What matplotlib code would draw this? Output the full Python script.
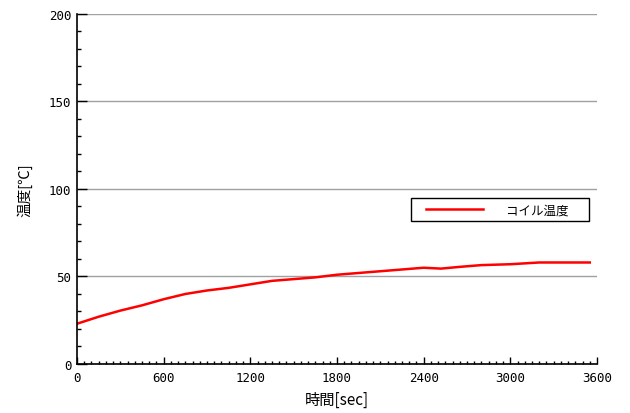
import matplotlib
matplotlib.use('Agg')
from matplotlib import pyplot as plt
from matplotlib.ticker import MultipleLocator
from matplotlib.legend_handler import HandlerLine2D

# コイル温度の推移
time_sec = [0, 150, 300, 450, 600, 750, 900, 1050, 1200, 1350, 1500, 1650,
            1800, 1950, 2100, 2250, 2400, 2520, 2650, 2800, 3000, 3200, 3550]
coil_temp = [23, 27, 30.5, 33.5, 37, 40, 42, 43.5, 45.5, 47.5, 48.5, 49.5,
             51, 52, 53, 54, 55, 54.5, 55.5, 56.5, 57, 58, 58]
x_ticks = [0, 600, 1200, 1800, 2400, 3000, 3600]
y_ticks = [0, 50, 100, 150, 200]

plt.rcParams['font.family'] = ['Noto Sans CJK JP', 'DejaVu Sans']
plt.rcParams['font.size'] = 8.5

fig = plt.figure(figsize=(6.3, 4.14), dpi=100)
ax = fig.add_axes([0.1222, 0.1184, 0.8254, 0.8454])

line, = ax.plot(time_sec, coil_temp, color='#ff0000', linewidth=1.8, label='コイル温度')

ax.set_xlim(0, 3600)
ax.set_ylim(0, 200)
ax.set_xticks(x_ticks)
ax.set_yticks(y_ticks)
ax.xaxis.set_minor_locator(MultipleLocator(50))
ax.yaxis.set_minor_locator(MultipleLocator(10))
ax.tick_params(axis='y', which='major', direction='in', length=7, width=1, pad=4)
ax.tick_params(axis='y', which='minor', direction='in', length=3, width=1)
ax.tick_params(axis='x', which='major', direction='in', length=5, width=1, pad=5)
ax.tick_params(axis='x', which='minor', direction='in', length=2.5, width=1)
for lbl in ax.get_xticklabels() + ax.get_yticklabels():
    lbl.set_family('DejaVu Sans Mono')
    lbl.set_fontsize(9)

ax.grid(axis='y', which='major', color='#a0a0a0', linewidth=1)
ax.set_axisbelow(True)

for side in ['top', 'right']:
    ax.spines[side].set_visible(False)
for side in ['left', 'bottom']:
    ax.spines[side].set_color('black')
    ax.spines[side].set_linewidth(1.2)

ax.set_xlabel('時間[sec]', fontsize=11, labelpad=5)
ax.set_ylabel('温度[℃]', fontsize=10.5, labelpad=12)

leg = ax.legend(loc='upper left', bbox_to_anchor=(0.642, 0.473), fancybox=False,
                edgecolor='black', framealpha=1, fontsize=9, numpoints=2,
                handlelength=6.2, handletextpad=1.0, borderpad=0.4, borderaxespad=0,
                handler_map={line: HandlerLine2D(marker_pad=0.8, numpoints=2)})
leg.get_frame().set_linewidth(1)
leg.get_texts()[0].set_text('コイル温度\u3000 ')

plt.savefig('out.png', dpi=100)
